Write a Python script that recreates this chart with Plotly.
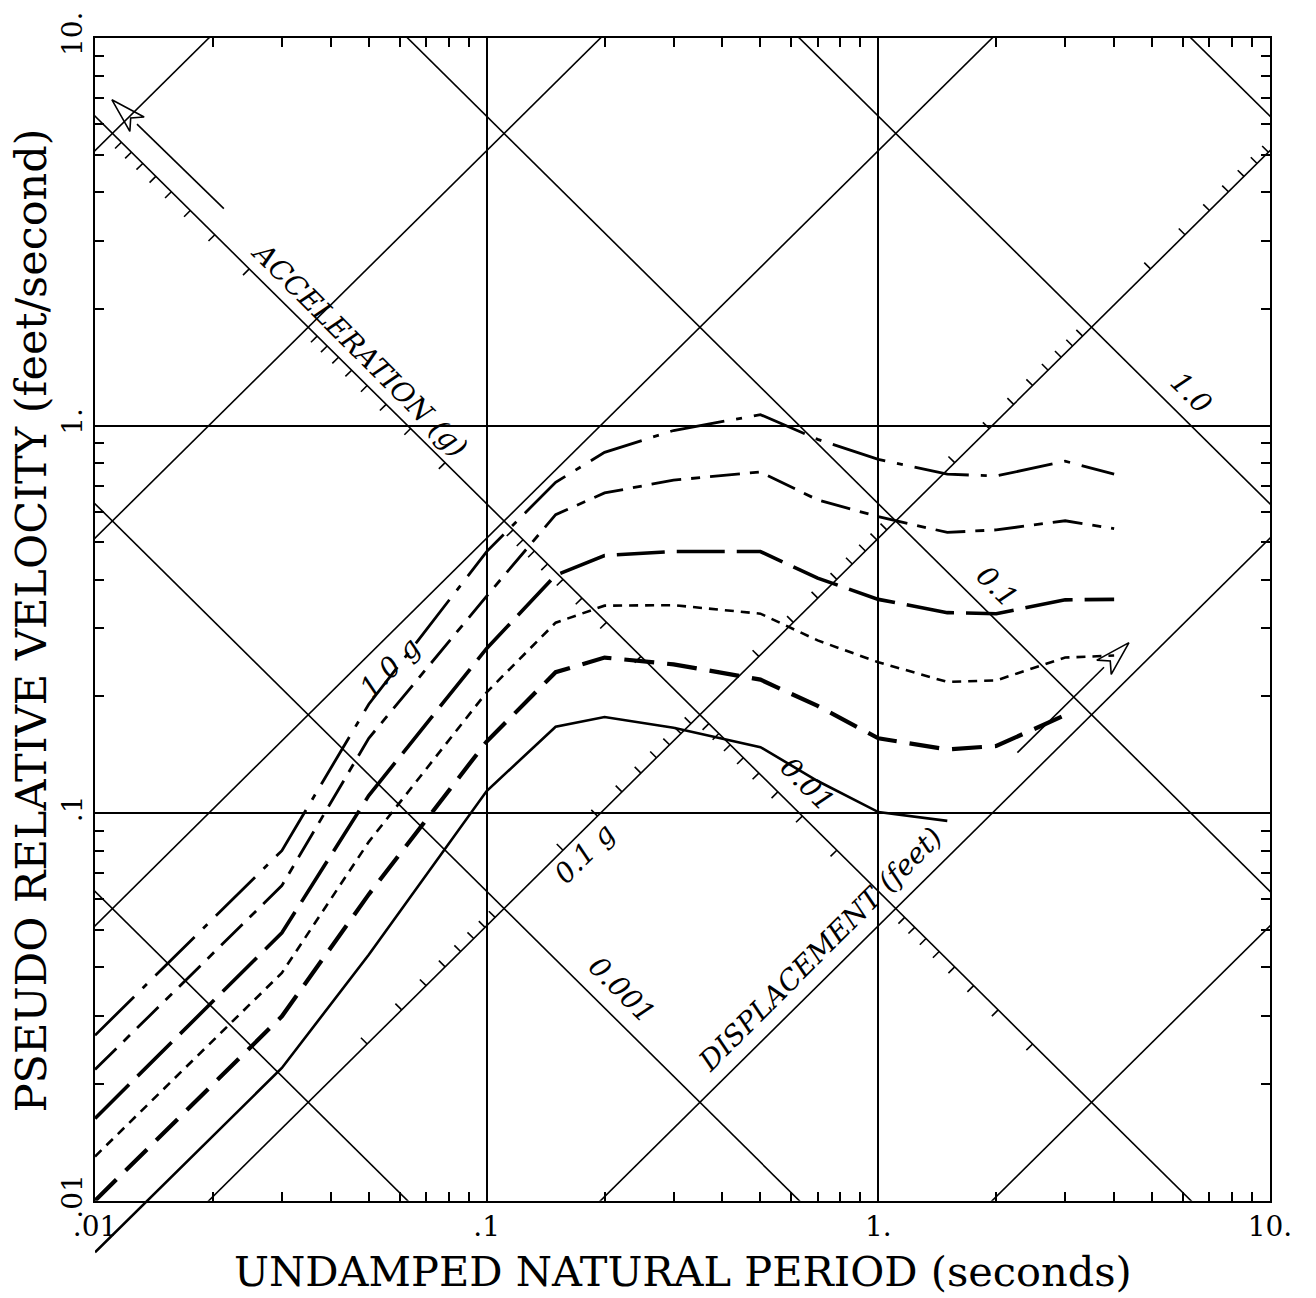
import numpy as np
import plotly.graph_objects as go

# ---------------- data ----------------
period_s = [0.01, 0.03, 0.05, 0.1, 0.15, 0.2, 0.3, 0.5, 0.7, 1.0, 1.5, 2.0, 3.0, 4.0]

psv_curve1 = [0.0267, 0.0800, 0.191, 0.473, 0.714, 0.853, 0.971, 1.067, 0.921, 0.818, 0.749, 0.741, 0.809, 0.749]
psv_curve2 = [0.0218, 0.0650, 0.156, 0.363, 0.589, 0.670, 0.723, 0.759, 0.643, 0.582, 0.530, 0.538, 0.568, 0.542]
psv_curve3 = [0.0163, 0.0491, 0.111, 0.266, 0.411, 0.462, 0.473, 0.473, 0.404, 0.356, 0.329, 0.327, 0.355, 0.356]
psv_curve4 = [0.0130, 0.0387, 0.0843, 0.205, 0.310, 0.343, 0.344, 0.327, 0.279, 0.245, 0.218, 0.220, 0.252, 0.255]
psv_curve5 = [0.0100, 0.0299, 0.0617, 0.153, 0.231, 0.252, 0.242, 0.221, 0.189, 0.156, 0.146, 0.149, 0.179]
psv_curve6 = [0.00736, 0.0220, 0.0431, 0.114, 0.167, 0.177, 0.166, 0.148, 0.121, 0.1006, 0.0955]

accel_lines_g = [0.001, 0.01, 0.1, 1.0, 10.0, 100.0]
disp_lines_ft = [0.0001, 0.001, 0.01, 0.1, 1.0, 10.0]

axis_tick_vals = [0.01, 0.1, 1.0, 10.0]
axis_tick_text = ['.01', '.1', '1.', '10.']

accel_scale_line_ft = 0.01     # constant-displacement line that carries the acceleration scale
disp_scale_line_g = 0.1        # constant-acceleration line that carries the displacement scale
accel_scale_ticks = [k * 10.0 ** n for n in range(-3, 2) for k in range(2, 10)]
disp_scale_ticks = [k * 10.0 ** n for n in range(-4, 1) for k in range(2, 10)]

diag_labels = ['ACCELERATION (g)', 'DISPLACEMENT (feet)', '1.0 g', '0.1 g', '0.001', '0.01', '0.1', '1.0']
diag_label_T = [0.0474, 0.711, 0.0566, 0.178, 0.221, 0.659, 2.01, 6.32]
diag_label_V = [1.574, 0.0444, 0.238, 0.0785, 0.0351, 0.1186, 0.385, 1.213]
diag_label_angle = [45, -45, -45, -45, 45, 45, 45, 45]

G_FT = 32.174
TWO_PI = 2 * np.pi

# ---------------- figure ----------------
W, H = 1316, 1298
ML, MR, MT, MB = 95, 46, 36, 20
plot_h = H - MT - MB                      # extended subplot height
main_h = 1174                             # main frame height (3 decades)
dom0 = (plot_h - main_h) / plot_h
ext_low = -2 - (plot_h - main_h) / (main_h / 3.0)

fig = go.Figure()

T_span = np.array([1e-3, 1e2])
LW = 1.6

# constant acceleration lines
for A in accel_lines_g:
    fig.add_trace(go.Scatter(x=T_span, y=A * G_FT * T_span / TWO_PI, mode='lines',
                             line=dict(color='black', width=LW), hoverinfo='skip', showlegend=False))
# constant displacement lines
for D in disp_lines_ft:
    fig.add_trace(go.Scatter(x=T_span, y=TWO_PI * D / T_span, mode='lines',
                             line=dict(color='black', width=LW), hoverinfo='skip', showlegend=False))

# scale ticks on the two diagonal axes
L = 0.016
tx, ty = [], []
for A in accel_scale_ticks:
    T = TWO_PI * np.sqrt(accel_scale_line_ft / (A * G_FT))
    V = TWO_PI * accel_scale_line_ft / T
    tx += [T, T * 10 ** (-L), None]
    ty += [V, V * 10 ** (-L), None]
for D in disp_scale_ticks:
    T = TWO_PI * np.sqrt(D / (disp_scale_line_g * G_FT))
    if T > 10:
        continue
    V = TWO_PI * D / T
    tx += [T, T * 10 ** (-L), None]
    ty += [V, V * 10 ** (L), None]
fig.add_trace(go.Scatter(x=tx, y=ty, mode='lines', line=dict(color='black', width=LW),
                         hoverinfo='skip', showlegend=False))


def arrow(tip, tail, head_len=0.09, half_w=0.026):
    tu, tv = np.log10(tip[0]), np.log10(tip[1])
    su, sv = np.log10(tail[0]), np.log10(tail[1])
    d = np.array([tu - su, tv - sv])
    d = d / np.hypot(*d)
    p = np.array([-d[1], d[0]])
    back = np.array([tu, tv]) - head_len * d
    c1 = back + half_w * p
    c2 = back - half_w * p
    notch = back + 0.25 * head_len * d
    xs = [su, back[0], None, tu, c1[0], notch[0], c2[0], tu]
    ys = [sv, back[1], None, tv, c1[1], notch[1], c2[1], tv]
    return ([None if a is None else 10 ** a for a in xs],
            [None if b is None else 10 ** b for b in ys])


for tip, tail in [((0.01104, 6.93), (0.02133, 3.63)), ((4.365, 0.2754), (2.265, 0.1432))]:
    ax_, ay_ = arrow(tip, tail)
    fig.add_trace(go.Scatter(x=ax_, y=ay_, mode='lines', line=dict(color='black', width=LW),
                             hoverinfo='skip', showlegend=False))

# response curves
curves = [psv_curve1, psv_curve2, psv_curve3, psv_curve4, psv_curve5]
styles = [dict(dash='55px,12px,6px,12px', width=2.8),
          dict(dash='30px,10px,9px,10px', width=2.8),
          dict(dash='48px,12px', width=3.6),
          dict(dash='9px,7px', width=2.6),
          dict(dash='30px,13px', width=4.2)]
for c, s in zip(curves, styles):
    fig.add_trace(go.Scatter(x=period_s[:len(c)], y=c, mode='lines',
                             line=dict(color='black', **s), hoverinfo='skip', showlegend=False))
# solid curve on an extended (invisible) subplot so it can run below the frame
fig.add_trace(go.Scatter(x=period_s[:len(psv_curve6)], y=psv_curve6, mode='lines',
                         line=dict(color='black', width=2.6), xaxis='x2', yaxis='y2',
                         hoverinfo='skip', showlegend=False))

minor_vals = [k * 10.0 ** n for n in range(-2, 1) for k in range(2, 10)]
axis_common = dict(type='log', range=[-2, 1], showline=True, linecolor='black', linewidth=2,
                   mirror='ticks', ticks='inside', ticklen=9, tickwidth=1.6, tickcolor='black',
                   showgrid=True, gridcolor='black', gridwidth=LW, zeroline=False,
                   tickmode='array', tickvals=axis_tick_vals, ticktext=axis_tick_text,
                   tickfont=dict(family='DejaVu Serif', size=28, color='black'),
                   minor=dict(tickmode='array', tickvals=minor_vals, ticks='inside', ticklen=9,
                              tickwidth=1.6, tickcolor='black', showgrid=False))

fig.update_layout(
    width=W, height=H, margin=dict(l=ML, r=MR, t=MT, b=MB),
    paper_bgcolor='white', plot_bgcolor='rgba(0,0,0,0)',
    xaxis=dict(**axis_common, domain=[0, 1], anchor='y'),
    yaxis=dict(**axis_common, domain=[dom0, 1], anchor='x', tickangle=-90),
    xaxis2=dict(type='log', range=[-2, 1], domain=[0, 1], anchor='y2', visible=False),
    yaxis2=dict(type='log', range=[ext_low, 1], domain=[0, 1], anchor='x2', visible=False),
    showlegend=False,
)

ann = []
for txt, T, V, ang in zip(diag_labels, diag_label_T, diag_label_V, diag_label_angle):
    ann.append(dict(x=np.log10(T), y=np.log10(V), xref='x', yref='y', text='<i>' + txt + '</i>',
                    showarrow=False, textangle=ang, xanchor='center', yanchor='middle',
                    font=dict(family='DejaVu Serif', size=28, color='black')))
ann.append(dict(x=0.5, y=0, xref='paper', yref='paper', xanchor='center', yanchor='middle', yshift=-3,
                text='UNDAMPED NATURAL PERIOD (seconds)', showarrow=False,
                font=dict(family='DejaVu Serif', size=41.5, color='black')))
ann.append(dict(x=(31 - ML) / (W - ML - MR), y=(H - MB - 624) / plot_h, xref='paper', yref='paper',
                xanchor='center', yanchor='middle',
                text='PSEUDO RELATIVE VELOCITY (feet/second)', showarrow=False, textangle=-90,
                font=dict(family='DejaVu Serif', size=43, color='black')))
fig.update_layout(annotations=ann)

fig.write_html('out.html')
